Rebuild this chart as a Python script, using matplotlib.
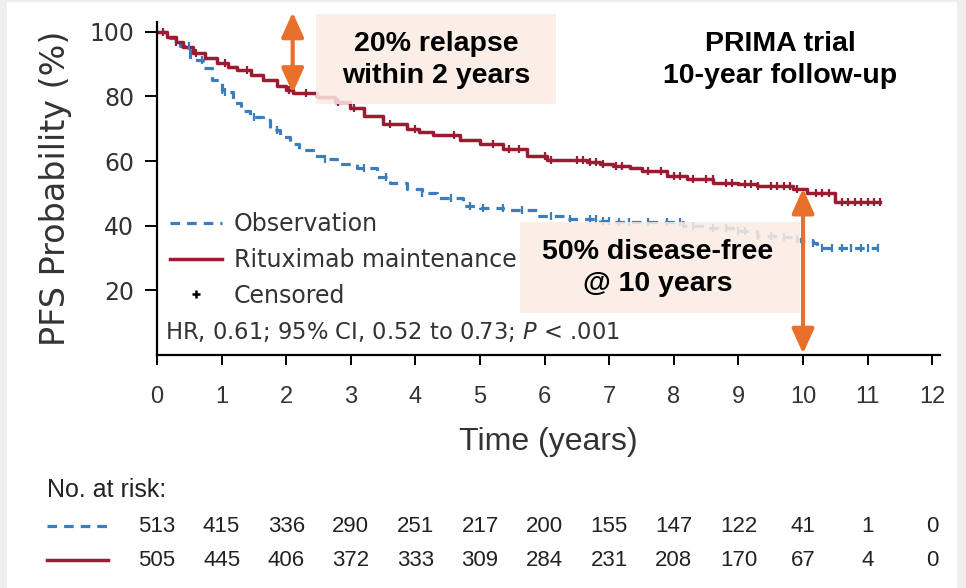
import numpy as np
import matplotlib.pyplot as plt
import matplotlib.transforms as mtransforms
from matplotlib.patches import Rectangle, FancyArrowPatch
from matplotlib.lines import Line2D

# Kaplan-Meier curves (time in years, PFS %)
obs_t = [0, 0.2, 0.35, 0.51, 0.71, 0.85, 1.0, 1.18, 1.3, 1.44, 1.64, 1.75, 1.9, 2.06,
         2.2, 2.41, 2.6, 2.78, 3.1, 3.4, 3.6, 3.87, 4.1, 4.33, 4.74, 5.0, 5.36, 5.88,
         6.35, 6.86, 7.06, 8.14, 8.5, 8.92, 9.29, 9.6, 9.85, 9.95, 10.15, 10.21, 11.16]
obs_s = [100, 98, 95.5, 91.2, 88.7, 85, 81.2, 77.8, 75.5, 73.5, 72.6, 69.5, 67.5, 65.4,
         63.5, 61.7, 60.5, 59.2, 57.7, 55, 53.3, 51.5, 50, 48.7, 46.2, 45.4, 44.7, 43.1,
         42.2, 41.5, 41.2, 40, 39.2, 38.4, 36.9, 36.5, 36, 35.3, 34.7, 33.2, 33.2]

rit_t = [0, 0.15, 0.3, 0.4, 0.56, 0.75, 0.93, 1.1, 1.24, 1.45, 1.64, 1.85, 2.0, 2.1,
         2.48, 2.75, 2.99, 3.2, 3.5, 3.87, 4.05, 4.27, 4.69, 5.0, 5.36, 5.73, 6.04,
         6.66, 6.86, 7.06, 7.32, 7.5, 7.89, 8.2, 8.61, 9.0, 9.29, 9.85, 10.06, 10.5, 11.19]
rit_s = [100, 98.5, 96.8, 95.2, 93.3, 91.8, 90.2, 89, 88.1, 86.5, 85, 83.2, 82, 81,
         79.7, 78.3, 76.3, 74, 71.6, 70, 69, 67.9, 66.4, 65.2, 63.8, 61.7, 60.2,
         59.8, 59.2, 58.6, 57.7, 57, 55.5, 54.5, 53.3, 52.8, 52.4, 51.5, 50.2, 47.4, 47.4]

obs_cens = [0.5, 0.7, 1.05, 1.5, 1.85, 2.6, 3.2, 3.55, 4.1, 4.55, 4.85, 5.05, 5.35, 5.65,
            6.1, 6.4, 6.7, 6.8, 6.9, 7.0, 7.15, 7.3, 7.6, 7.9, 8.1, 8.3, 8.6, 8.8,
            9.0, 9.1, 9.3, 9.5, 9.7, 9.9, 10.15, 10.3, 10.45, 10.6, 10.75, 10.9, 11.0, 11.16]
rit_cens = [0.1, 0.3, 0.6, 1.05, 1.4, 2.05, 2.3, 2.8, 3.05, 3.6, 4.0, 4.6, 5.2, 5.45,
            5.6, 6.0, 6.1, 6.5, 6.6, 6.7, 6.8, 6.9, 7.1, 7.2, 7.6, 7.8, 8.0, 8.1, 8.3,
            8.5, 8.6, 8.8, 8.9, 9.1, 9.2, 9.3, 9.5, 9.6, 9.7, 9.8, 9.9, 10.2, 10.3,
            10.4, 10.6, 10.7, 10.8, 10.9, 11.0, 11.1, 11.19]

risk_times = list(range(13))
risk_obs = [513, 415, 336, 290, 251, 217, 200, 155, 147, 122, 41, 1, 0]
risk_rit = [505, 445, 406, 372, 333, 309, 284, 231, 208, 170, 67, 4, 0]

blue = '#3b7dbd'
red = '#9b1c32'
orange = '#e8702a'
box_col = '#fbece3'
grey = '#333333'
narrow = ['Liberation Sans', 'DejaVu Sans']
bold = ['Liberation Sans', 'DejaVu Sans']


def step_at(t, s, times):
    idx = np.searchsorted(t, times, side='right') - 1
    return np.asarray(s)[idx]


fig = plt.figure(figsize=(9.66, 5.88), dpi=100, facecolor='#efefef')
fig.add_artist(Rectangle((0.007, 0.0), 0.984, 0.997, transform=fig.transFigure,
                         facecolor='white', edgecolor='none', zorder=-10))
ax = fig.add_axes([157 / 966, 1 - 355 / 588, (940 - 157) / 966, 333 / 588])
ax.set_facecolor('none')

ax.step(obs_t, obs_s, where='post', color=blue, lw=2.3, linestyle=(0, (3, 2.2)))
ax.step(rit_t, rit_s, where='post', color=red, lw=2.5)
ax.plot(obs_cens, step_at(obs_t, obs_s, obs_cens), linestyle='none', marker='|',
        ms=6, mew=1.6, color=blue)
ax.plot(rit_cens, step_at(rit_t, rit_s, rit_cens), linestyle='none', marker='|',
        ms=6, mew=1.6, color=red)

ax.set_xlim(0, 12.12)
ax.set_ylim(0, 103)
ax.set_xticks(range(13))
ax.set_yticks([20, 40, 60, 80, 100])
for s in ['top', 'right']:
    ax.spines[s].set_visible(False)
for s in ['left', 'bottom']:
    ax.spines[s].set_linewidth(1.6)
ax.tick_params(axis='y', length=8.5, width=1.4, pad=8, labelsize=17, labelcolor=grey)
ax.tick_params(axis='x', length=7, width=1.4, pad=15, labelsize=17, labelcolor=grey)
for lab in ax.get_xticklabels():
    lab.set_family(narrow)

ax.set_ylabel('PFS Probability (%)', fontsize=24, color=grey)
ax.yaxis.set_label_coords(-0.108, 0.5)
ax.set_xlabel('Time (years)', fontsize=23, color=grey, family=narrow)
ax.xaxis.set_label_coords(0.5, -0.215)

handles = [Line2D([], [], color=blue, lw=2.3, linestyle=(0, (3, 2.2))),
           Line2D([], [], color=red, lw=2.5),
           Line2D([], [], color='black', marker='+', ms=6, mew=1.8, linestyle='none')]
ax.legend(handles, ['Observation', 'Rituximab maintenance', 'Censored'],
          loc='upper left', bbox_to_anchor=(0.002, 0.465), frameon=False,
          fontsize=17, handlelength=2.2, handletextpad=0.5, labelspacing=0.5,
          borderpad=0, labelcolor=grey)
ax.text(0.01, 0.07, 'HR, 0.61; 95% CI, 0.52 to 0.73; $P$ < .001', transform=ax.transAxes,
        fontsize=16.3, color=grey, va='center', ha='left')

# number at risk table
trans = mtransforms.blended_transform_factory(ax.transData, ax.transAxes)
ax.text(-1.70, -0.405, 'No. at risk:', transform=trans, fontsize=18, color='#222222',
        family=narrow, va='center', ha='left', clip_on=False)
for x, n1, n2 in zip(risk_times, risk_obs, risk_rit):
    ax.text(x, -0.514, str(n1), transform=trans, fontsize=16, color='#222222',
            family=narrow, va='center', ha='center', clip_on=False)
    ax.text(x, -0.617, str(n2), transform=trans, fontsize=16, color='#222222',
            family=narrow, va='center', ha='center', clip_on=False)
fig.add_artist(Line2D([47 / 966, 108 / 966], [1 - 526 / 588] * 2, color=blue, lw=2.3,
                      linestyle=(0, (3, 2.2))))
fig.add_artist(Line2D([47 / 966, 108 / 966], [1 - 560 / 588] * 2, color=red, lw=2.5))

# annotation boxes and arrows
fig.add_artist(Rectangle((316 / 966, 1 - 104 / 588), 240 / 966, 90 / 588,
                         transform=fig.transFigure, facecolor=box_col, alpha=0.85,
                         edgecolor='none', zorder=3))
fig.text(436 / 966, 1 - 60 / 588, '20% relapse\nwithin 2 years', ha='center', va='center',
         fontsize=20.5, fontweight='bold', family=bold, linespacing=1.3, zorder=4)
fig.add_artist(Rectangle((520 / 966, 1 - 313 / 588), 280 / 966, 91 / 588,
                         transform=fig.transFigure, facecolor=box_col, alpha=0.85,
                         edgecolor='none', zorder=3))
fig.text(658 / 966, 1 - 268 / 588, '50% disease-free\n@ 10 years', ha='center', va='center',
         fontsize=20.5, fontweight='bold', family=bold, linespacing=1.3, zorder=4)
fig.text(780 / 966, 1 - 60 / 588, 'PRIMA trial\n10-year follow-up', ha='center', va='center',
         fontsize=20.5, fontweight='bold', family=bold, linespacing=1.3, zorder=4)

for x0, y0, y1 in [(2.1, 106, 81), (10.0, 51.5, 0.4)]:
    arr = FancyArrowPatch((x0, y0), (x0, y1), transform=ax.transData,
                          arrowstyle='<|-|>,head_length=1.0,head_width=0.45',
                          mutation_scale=15, color=orange, lw=3, zorder=5,
                          shrinkA=0, shrinkB=0, clip_on=False)
    fig.add_artist(arr)

plt.savefig('out.png', dpi=100, facecolor=fig.get_facecolor())
